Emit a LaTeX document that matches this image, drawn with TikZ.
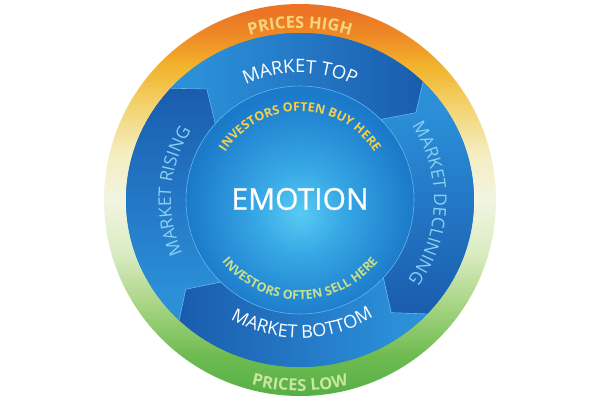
\documentclass[tikz,border=0pt]{standalone}
\usepackage{fontspec}
\setmainfont{Open Sans}
\newfontfamily\ringfont{Open Sans Bold}
\newfontfamily\bandfont{Open Sans}
\newfontfamily\innerfont{Open Sans Bold}
\newfontfamily\emofont[FakeBold=0.8]{Open Sans}
\usetikzlibrary{decorations.text}

\definecolor{ringorange}{HTML}{EC7424}
\definecolor{ringamber}{HTML}{EE8A26}
\definecolor{ringyellow}{HTML}{F2B42C}
\definecolor{ringyellowlight}{HTML}{F3D36E}
\definecolor{ringyellowpale}{HTML}{F4EDC0}
\definecolor{ringpale}{HTML}{F2F5E2}
\definecolor{ringgreenpale}{HTML}{D9EBC0}
\definecolor{ringgreenlight}{HTML}{A2D27E}
\definecolor{ringgreenmid}{HTML}{6DBB50}
\definecolor{ringgreen}{HTML}{55B046}
\definecolor{bandbase}{HTML}{2278C6}
\definecolor{bandlight}{HTML}{2C90D9}
\definecolor{banddark}{HTML}{1A5CAE}
\definecolor{bandline}{HTML}{62B6EC}
\definecolor{spherelight}{HTML}{58CAF4}
\definecolor{spheremid}{HTML}{36A6E4}
\definecolor{spheredark}{HTML}{1B79C9}
\definecolor{texthigh}{HTML}{F7D57E}
\definecolor{textlow}{HTML}{C8E6A0}
\definecolor{textbuy}{HTML}{F4CF4C}
\definecolor{textsell}{HTML}{C6E18C}
\definecolor{textside}{HTML}{8AD0F2}

\pgfdeclareverticalshading{ringshade}{100bp}{color(0bp)=(ringgreen); color(25bp)=(ringgreen); color(30bp)=(ringgreenmid); color(36bp)=(ringgreenlight); color(43bp)=(ringgreenpale); color(50bp)=(ringpale); color(56bp)=(ringyellowpale); color(62bp)=(ringyellowlight); color(67bp)=(ringyellow); color(71bp)=(ringamber); color(74bp)=(ringorange); color(100bp)=(ringorange)}
\pgfdeclarehorizontalshading{bandshade}{100bp}{color(0bp)=(bandlight); color(30bp)=(bandlight); color(75bp)=(banddark); color(100bp)=(banddark)}
\pgfdeclareradialshading{sphereshade}{\pgfpoint{0bp}{-3bp}}{color(0bp)=(spherelight); color(10bp)=(spheremid); color(25bp)=(spheredark); color(50bp)=(spheredark)}

\begin{document}
\begin{tikzpicture}[x=1pt, y=1pt,
  arclabel/.style={decorate, decoration={text along path, text align=center, #1}},
  seamline/.style={draw=bandline, line width=0.6pt}]
\useasboundingbox (-300,-200) rectangle (300,200);
\shade[shading=ringshade] (0,0) circle (196);
\fill[bandbase] (0,0) ellipse [x radius=174, y radius=167];
\foreach \tail/\head/\turn in {138/45/0, 45/-43/-90, -43/-134/180, 226/138/90} {
 \shade[shading=bandshade, shading angle=\turn]
  (\tail:174 and 167) arc[start angle=\tail, end angle=\head, x radius=174, y radius=167]
  -- ({\head-8}:145) -- (\head:114) arc[start angle=\head, end angle=\tail, radius=114]
  -- ({\tail-8}:145) -- cycle;
}
\foreach \t in {138, 45, -43, -134} {
 \draw[seamline] (\t:174 and 167) -- ({\t-8}:145) -- (\t:114);
}
\shade[shading=sphereshade] (0,0) circle (114);
\draw[seamline] (0,0) circle (114);
\node[text=white, font=\emofont\fontsize{30}{32}\selectfont] (emotion) at (0,1) {EMOTION};

\path[arclabel={text color=texthigh, text={|\ringfont\fontsize{16.5}{18}\selectfont|PRICES HIGH}}]
 (135:172) arc[start angle=135, end angle=45, radius=172];
\path[arclabel={text color=textlow, text={|\ringfont\fontsize{16.5}{18}\selectfont|PRICES LOW}}]
 (225:191) arc[start angle=225, end angle=315, radius=191];
\path[arclabel={text color=white, text={|\bandfont\fontsize{18.5}{20}\selectfont|MARKET TOP}}]
 (140:127) arc[start angle=140, end angle=40, radius=127];
\path[arclabel={text color=white, text={|\bandfont\fontsize{18}{20}\selectfont|MARKET BOTTOM}}]
 (211:138) arc[start angle=211, end angle=331, radius=138];
\path[arclabel={text color=textside, text={|\bandfont\fontsize{17.5}{20}\selectfont|MARKET DECLINING}}]
 (58:134) arc[start angle=58, end angle=-61, radius=134];
\path[arclabel={text color=textside, text={|\bandfont\fontsize{17.5}{20}\selectfont|MARKET RISING}}]
 (236:129) arc[start angle=236, end angle=116, radius=129];
\path[arclabel={text color=textbuy, text={|\innerfont\fontsize{12.5}{14}\selectfont|INVESTORS OFTEN BUY HERE}}]
 (175:88.5) arc[start angle=175, end angle=5, radius=88.5];
\path[arclabel={text color=textsell, text={|\innerfont\fontsize{12.5}{14}\selectfont|INVESTORS OFTEN SELL HERE}}]
 (185:99.5) arc[start angle=185, end angle=355, radius=99.5];
\end{tikzpicture}
\end{document}
